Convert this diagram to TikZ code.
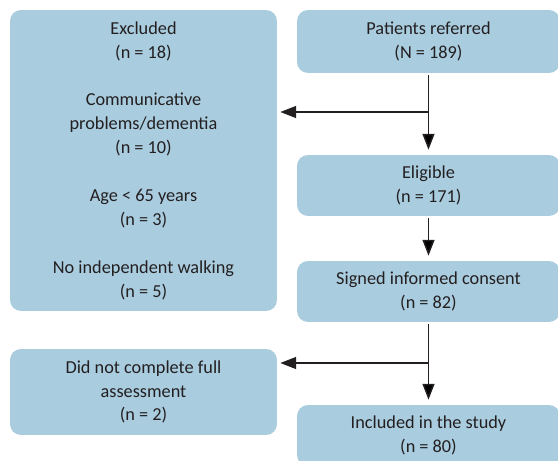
\documentclass[tikz,border=0pt]{standalone}
\usepackage{fontspec}
\setmainfont{Carlito}
\usetikzlibrary{arrows.meta}
\definecolor{boxblue}{HTML}{A9CCDF}
\definecolor{ink}{HTML}{231F20}
\tikzset{flow/.style={draw=ink, line width=0.85pt, -{Triangle[length=9pt,width=6.8pt]}}}

\begin{document}
\begin{tikzpicture}[x=0.02cm,y=-0.02cm]
        \useasboundingbox (0,0) rectangle (558,460);
        \begin{scope}[every node/.style={fill=boxblue,rounded corners=0.22cm,text=ink,align=center,inner sep=0pt,font=\fontsize{10.4}{13.6}\selectfont}]
            \node[minimum width=5.34cm,minimum height=6.02cm] (excl) at (143.5,160.5) {Excluded\\(n = 18)\\[13.6pt]Communicative\\problems/dementia\\(n = 10)\\[13.6pt]Age < 65 years\\(n = 3)\\[13.6pt]No independent walking\\(n = 5)};
            \node[minimum width=5.34cm,minimum height=1.72cm] (incomp) at (143.5,392) {Did not complete full\\assessment\\(n = 2)};

            \node[minimum width=5.26cm,minimum height=1.26cm] (ref) at (428.5,41.5) {Patients referred\\(N = 189)};
            \node[minimum width=5.26cm,minimum height=1.22cm] (elig) at (428.5,185.5) {Eligible\\(n = 171)};
            \node[minimum width=5.26cm,minimum height=1.22cm] (cons) at (428.5,291.5) {Signed informed consent\\(n = 82)};
            \node[minimum width=5.26cm,minimum height=1.22cm] (incl) at (428.5,435.5) {Included in the study\\(n = 80)};
        \end{scope}
        \coordinate (j1) at (ref.south |- 0,112);
        \coordinate (j2) at (cons.south |- 0,363);
        \begin{scope}[shorten <=0.04cm, shorten >=0.1cm]
            \path [flow] (ref) edge (elig);
            \path [flow] (elig) edge (cons);
            \path [flow] (cons) edge (incl);
        \end{scope}
        \draw [flow, shorten >=0.06cm] (j1) -- (j1 -| excl.east);
        \draw [flow, shorten >=0.06cm] (j2) -- (j2 -| incomp.east);
    \end{tikzpicture}
\end{document}
